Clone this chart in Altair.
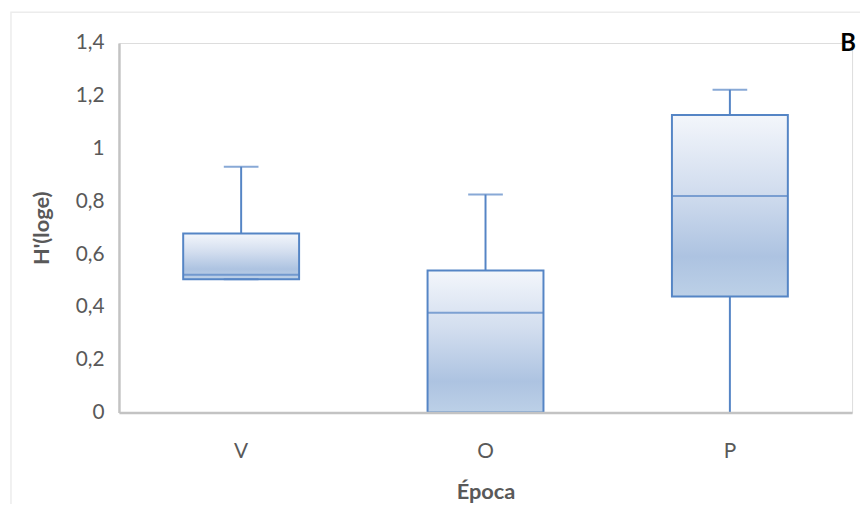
import altair as alt
import pandas as pd

categories = ["V", "O", "P"]
whisker_low = [0.505, 0.0, 0.0]
q1 = [0.505, 0.0, 0.440]
median = [0.522, 0.378, 0.820]
q3 = [0.678, 0.538, 1.127]
whisker_high = [0.931, 0.826, 1.223]

df = pd.DataFrame({
    "cat": categories,
    "lo": whisker_low,
    "q1": q1,
    "med": median,
    "q3": q3,
    "hi": whisker_high,
})

STROKE = "#5585c5"
FONT = "Lato"
W, H = 740, 373

x_enc = alt.X("cat:N", sort=categories,
              scale=alt.Scale(paddingInner=0, paddingOuter=0),
              axis=alt.Axis(title="Época", labelAngle=0, ticks=False,
                            labelPadding=28, titlePadding=21,
                            domainColor="#c3c3c3", domainWidth=2.5,
                            labelColor="#595959", labelFontSize=21, labelFont=FONT,
                            titleColor="#595959", titleFontSize=22, titleFont=FONT,
                            titleFontWeight="bold", zindex=1))
y_scale = alt.Scale(domain=[0, 1.4], nice=False, zero=True)
y_axis = alt.Axis(title="H'(loge)", values=[0, 0.2, 0.4, 0.6, 0.8, 1.0, 1.2, 1.4],
                  labelExpr="replace(format(datum.value, '~g'), '.', ',')",
                  ticks=False, grid=False, labelPadding=15, titlePadding=22,
                  domainColor="#c3c3c3", domainWidth=2.5,
                  labelColor="#595959", labelFontSize=21, labelFont=FONT,
                  titleColor="#595959", titleFontSize=22, titleFont=FONT,
                  titleFontWeight="bold", zindex=1)

base = alt.Chart(df)

frame = base.mark_rect(fill=None, stroke="#ececec", strokeWidth=1.5).encode(
    x=alt.value(-109), x2=alt.value(W + 20), y=alt.value(-31), y2=alt.value(H + 110)
).transform_filter(alt.datum.cat == "V")

whisker = base.mark_rule(color=STROKE, strokeWidth=2).encode(
    x=x_enc,
    y=alt.Y("lo:Q", scale=y_scale, axis=y_axis),
    y2="hi:Q",
)

cap_hi = base.mark_tick(color=STROKE, thickness=2, size=35, orient="horizontal").encode(
    x=x_enc, y=alt.Y("hi:Q", scale=y_scale))
cap_lo = base.mark_tick(color=STROKE, thickness=2, size=35, orient="horizontal").encode(
    x=x_enc, y=alt.Y("lo:Q", scale=y_scale)
).transform_filter(alt.datum.lo > 0)

gradient = alt.Gradient(
    gradient="linear",
    stops=[
        alt.GradientStop(color="#f3f6fb", offset=0),
        alt.GradientStop(color="#d3deef", offset=0.4),
        alt.GradientStop(color="#adc3e1", offset=0.78),
        alt.GradientStop(color="#bcd0e7", offset=1),
    ],
    x1=0, x2=0, y1=0, y2=1,
)

box = base.mark_bar(fill=gradient, stroke=STROKE, strokeWidth=2,
                    width=117).encode(
    x=x_enc,
    y=alt.Y("q1:Q", scale=y_scale),
    y2="q3:Q",
)

med = base.mark_tick(color=STROKE, thickness=2, size=117, orient="horizontal").encode(
    x=x_enc, y=alt.Y("med:Q", scale=y_scale))

label_b = base.mark_text(text="B", font=FONT, fontSize=24, fontWeight="bold",
                         color="#000000", align="center", baseline="middle").encode(
    x=alt.value(W - 4), y=alt.value(1)
).transform_filter(alt.datum.cat == "V")

chart = alt.layer(frame, whisker, box, med, cap_hi, cap_lo, label_b).properties(
    width=W, height=H,
    autosize=alt.AutoSizeParams(type="none"),
    padding={"left": 112, "top": 33, "right": 8, "bottom": 90},
).configure_view(stroke=None).configure(background="white")

chart.save("out.html", embed_options={"renderer": "svg", "actions": False})
